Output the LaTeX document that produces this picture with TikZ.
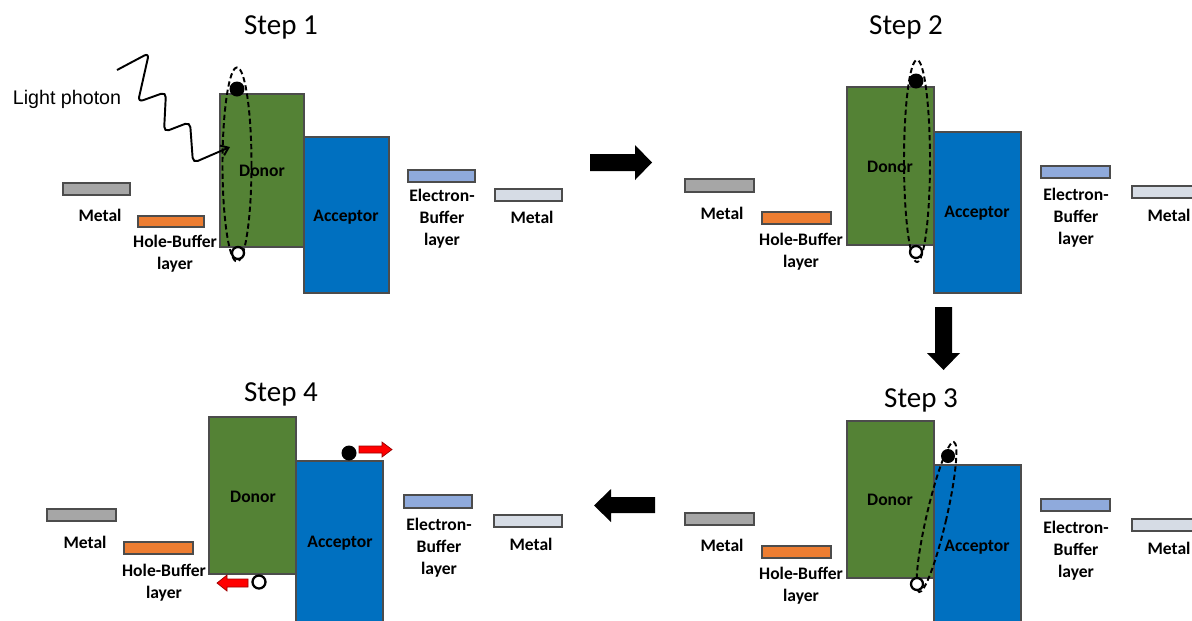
\documentclass[tikz,border=0pt]{standalone}
\usepackage{fontspec}
\setmainfont{Carlito}
\newfontfamily\photonfont{Liberation Sans}
\usetikzlibrary{arrows.meta}
\definecolor{donorgreen}{HTML}{548235}
\definecolor{acceptorblue}{HTML}{0070C0}
\definecolor{metalgrey}{HTML}{A6A6A6}
\definecolor{holeorange}{HTML}{ED7D31}
\definecolor{ebufblue}{HTML}{8FAADC}
\definecolor{metallight}{HTML}{D6DCE5}
\tikzset{
layer/.style=
    {draw=black!70,
    line width=0.6pt
    },
lbl/.style=
    {font=\bfseries\fontsize{10}{12.5}\selectfont,
    align=center,
    inner sep=0pt
    },
steplbl/.style=
    {font=\fontsize{16.5}{19}\selectfont,
    inner sep=0pt
    },
exciton/.style=
    {draw=black,
    line width=1.1pt,
    dash pattern=on 3pt off 1.8pt
    },
electron/.style={fill=black},
hole/.style={draw=black,fill=white,line width=1.3pt},
bigarrow/.style={fill=black},
redarrow/.style={fill=red,draw=red!60!black,line width=0.4pt},
photon/.style=
    {line width=1.1pt,
    rounded corners=3pt,
    -{Straight Barb[length=4pt,width=6pt]}
    }}

\begin{document}
\begin{tikzpicture}[x=0.02cm,y=-0.02cm]
\clip (0,0) rectangle (1192,620);
\fill[white] (0,0) rectangle (1192,620);

% Step 1
\node[steplbl] (s1title) at (281,27) {Step 1};
\draw[layer,fill=metalgrey] (63,183) rectangle (130,195);
\node[lbl] (s1metal) at (100,215) {Metal};
\draw[layer,fill=holeorange] (138,216) rectangle (204,227);
\node[lbl] (s1hb) at (175,254) {Hole-Buffer\\layer};
\draw[layer,fill=donorgreen] (220,94) rectangle (304,247);
\node[lbl] (s1donor) at (262,171) {Donor};
\draw[layer,fill=acceptorblue] (304,137) rectangle (389,293);
\node[lbl] (s1acc) at (346,217) {Acceptor};
\draw[layer,fill=ebufblue] (408,170) rectangle (475,182);
\node[lbl] (s1eb) at (442,219) {Electron-\\Buffer\\layer};
\draw[layer,fill=metallight] (495,189) rectangle (562,201);
\node[lbl] (s1metalr) at (532,217) {Metal};
\draw[exciton] (237,164.5) ellipse [x radius=14.5,y radius=97];
\fill[electron] (237,89) circle (7.5);
\draw[hole] (238,253) circle (6);
\node[inner sep=0pt,font=\photonfont\fontsize{11.2}{13}\selectfont] (photon) at (67,99) {Light photon};
\coordinate (photonstart) at (117,70);
\coordinate (photonhit) at (230,147);
\draw[photon] (photonstart) -- (149,53) -- (138,102) -- (166,92) -- (164,132) -- (190,122) -- (193,163) -- (photonhit);

% Step 1 -> Step 2
\fill[bigarrow] (590,154) -- (635,154) -- (635,145) -- (652,162.5) -- (635,180) -- (635,171) -- (590,171) -- cycle;

% Step 2
\node[steplbl] (s2title) at (906,27) {Step 2};
\draw[layer,fill=metalgrey] (685,179) rectangle (754,192);
\node[lbl] (s2metal) at (722,213) {Metal};
\draw[layer,fill=holeorange] (762,212) rectangle (831,224);
\node[lbl] (s2hb) at (801,252) {Hole-Buffer\\layer};
\draw[layer,fill=donorgreen] (847,87) rectangle (934,245);
\node[lbl] (s2donor) at (890,167) {Donor};
\draw[layer,fill=acceptorblue] (934,132) rectangle (1021,293);
\node[lbl] (s2acc) at (977,213) {Acceptor};
\draw[layer,fill=ebufblue] (1041,166) rectangle (1110,178);
\node[lbl] (s2eb) at (1076,218) {Electron-\\Buffer\\layer};
\draw[layer,fill=metallight] (1132,186) rectangle (1200,198);
\node[lbl] (s2metalr) at (1169,215) {Metal};
\draw[exciton] (917,161) ellipse [x radius=13,y radius=101];
\fill[electron] (916,81) circle (7.5);
\draw[hole] (916,252) circle (6);

% Step 2 -> Step 3
\fill[bigarrow] (935,307) -- (952,307) -- (952,353) -- (960,353) -- (943.5,370) -- (927,353) -- (935,353) -- cycle;

% Step 3
\node[steplbl] (s3title) at (921,400) {Step 3};
\draw[layer,fill=metalgrey] (685,513) rectangle (754,525);
\node[lbl] (s3metal) at (722,545) {Metal};
\draw[layer,fill=holeorange] (762,546) rectangle (831,558);
\node[lbl] (s3hb) at (801,586) {Hole-Buffer\\layer};
\draw[layer,fill=donorgreen] (847,421) rectangle (934,578);
\node[lbl] (s3donor) at (890,500) {Donor};
\draw[layer,fill=acceptorblue] (934,465) rectangle (1021,630);
\node[lbl] (s3acc) at (977,547) {Acceptor};
\draw[layer,fill=ebufblue] (1041,499) rectangle (1110,511);
\node[lbl] (s3eb) at (1076,551) {Electron-\\Buffer\\layer};
\draw[layer,fill=metallight] (1132,519) rectangle (1200,531);
\node[lbl] (s3metalr) at (1169,548) {Metal};
\draw[exciton,rotate around={-13:(936.5,517)}] (936.5,517) ellipse [x radius=10,y radius=77];
\fill[electron] (948,456) circle (7);
\draw[hole] (917,584) circle (6);

% Step 3 -> Step 4
\fill[bigarrow] (655,497) -- (611,497) -- (611,489) -- (594,505.5) -- (611,522) -- (611,513) -- (655,513) -- cycle;

% Step 4
\node[steplbl] (s4title) at (281,394) {Step 4};
\draw[layer,fill=metalgrey] (47,509) rectangle (116,521);
\node[lbl] (s4metal) at (85,542) {Metal};
\draw[layer,fill=holeorange] (124,542) rectangle (193,554);
\node[lbl] (s4hb) at (164,583) {Hole-Buffer\\layer};
\draw[layer,fill=donorgreen] (209,417) rectangle (296,574);
\node[lbl] (s4donor) at (253,497) {Donor};
\draw[layer,fill=acceptorblue] (296,461) rectangle (383,630);
\node[lbl] (s4acc) at (340,543) {Acceptor};
\draw[layer,fill=ebufblue] (404,495) rectangle (472,508);
\node[lbl] (s4eb) at (439,548) {Electron-\\Buffer\\layer};
\draw[layer,fill=metallight] (494,515) rectangle (562,527);
\node[lbl] (s4metalr) at (531,544) {Metal};
\fill[electron] (349,453) circle (7.5);
\draw[redarrow] (359,446) -- (382,446) -- (382,442) -- (392,449.5) -- (382,457) -- (382,453) -- (359,453) -- cycle;
\draw[hole] (259,582) circle (6.5);
\draw[redarrow] (248,579) -- (227,579) -- (227,575) -- (217,583) -- (227,591) -- (227,587) -- (248,587) -- cycle;
\end{tikzpicture}
\end{document}
